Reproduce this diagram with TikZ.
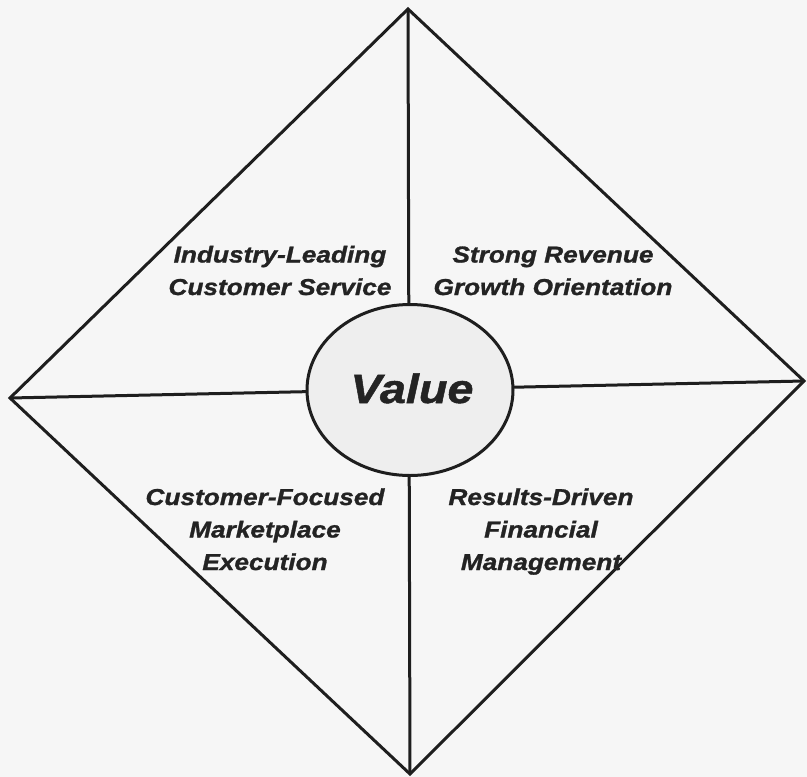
\documentclass[tikz,border=0pt]{standalone}
\usepackage{fontspec}
\usetikzlibrary{shapes.geometric}
\setmainfont{Liberation Sans}
\newfontfamily\lblfont[FakeStretch=1.14,FakeBold=1.2]{Liberation Sans}
\definecolor{bgc}{RGB}{246,246,246}
\definecolor{inkc}{RGB}{30,30,30}
\definecolor{txtc}{RGB}{35,35,35}
\definecolor{ovalc}{RGB}{238,238,238}
\begin{document}
\begin{tikzpicture}[x=1pt,y=-1pt,
  edge/.style={draw=inkc,line width=3pt},
  lbl/.style={text=txtc,align=center,inner sep=0pt,
    font=\lblfont\bfseries\itshape\fontsize{23}{32.5}\selectfont}]
\fill[bgc] (0,0) rectangle (807,777);
\useasboundingbox (0,0) rectangle (807,777);
\coordinate (T) at (408,9);
\coordinate (L) at (10,398);
\coordinate (R) at (804,381);
\coordinate (B) at (410,774);
\draw[edge,line join=miter] (T) -- (R) -- (B) -- (L) -- cycle;
\draw[edge] (T) -- (B);
\draw[edge] (L) -- (R);
\node[ellipse,draw=inkc,line width=3pt,fill=ovalc,minimum width=206pt,minimum height=171pt,inner sep=0pt] (V) at (410,390) {};
\node[text=txtc,inner sep=0pt,anchor=base,font=\lblfont\bfseries\itshape\fontsize{41}{41}\selectfont] (vt) at (412,403) {Value};
\node[lbl,anchor=base] (q1) at (280,295) {Industry-Leading\\Customer Service};
\node[lbl,anchor=base] (q2) at (553,295) {Strong Revenue\\Growth Orientation};
\node[lbl,anchor=base] (q3) at (265,570) {Customer-Focused\\Marketplace\\Execution};
\node[lbl,anchor=base] (q4) at (541,570) {Results-Driven\\Financial\\Management};
\end{tikzpicture}
\end{document}
